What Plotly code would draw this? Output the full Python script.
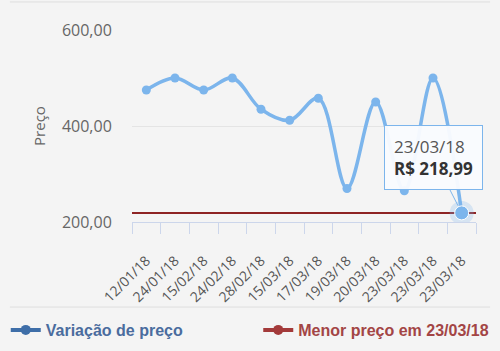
import plotly.graph_objects as go

dates = ["12/01/18", "24/01/18", "15/02/18", "24/02/18", "28/02/18", "15/03/18",
         "17/03/18", "19/03/18", "20/03/18", "23/03/18", "23/03/18", "23/03/18"]
prices = [474.9, 499.9, 474.9, 499.9, 434.9, 411.9, 457.9, 269.9, 449.9, 264.9, 499.9, 218.99]
y_ticks = [200, 400, 600]
series_name = "Variação de preço"
lowest_name = "Menor preço em " + dates[-1]

idx = list(range(len(dates)))
low = min(prices)
blue = "#7cb5ec"
red = "#8e2424"

fig = go.Figure()

fig.add_trace(go.Scatter(
    x=idx, y=prices, mode="lines+markers",
    line=dict(color=blue, width=3.5, shape="spline", smoothing=1.0),
    marker=dict(color=blue, size=9),
    showlegend=False, hoverinfo="skip"))

# highlighted last point with halo
fig.add_trace(go.Scatter(
    x=[idx[-1]], y=[prices[-1]], mode="markers",
    marker=dict(color="rgba(124,181,236,0.25)", size=24),
    showlegend=False, hoverinfo="skip"))
fig.add_trace(go.Scatter(
    x=[idx[-1]], y=[prices[-1]], mode="markers",
    marker=dict(color=blue, size=14, line=dict(color="#ffffff", width=1)),
    showlegend=False, hoverinfo="skip"))

# legend entries
fig.add_trace(go.Scatter(
    x=[None], y=[None], mode="lines+markers", name="<b>" + series_name + "</b>",
    line=dict(color="#3e6ea8", width=4), marker=dict(color="#3e6ea8", size=10),
    legend="legend"))
fig.add_trace(go.Scatter(
    x=[None], y=[None], mode="lines+markers", name="<b>" + lowest_name + "</b>",
    line=dict(color="#a33a3a", width=4), marker=dict(color="#a33a3a", size=10),
    legend="legend2"))

shapes = [
    dict(type="line", xref="x domain", yref="y", x0=0, x1=1, y0=low, y1=low,
         line=dict(color=red, width=2), layer="below"),
    dict(type="line", xref="paper", yref="paper", x0=-0.355, x1=1.041, y0=1.146, y1=1.146,
         line=dict(color="#dedede", width=1)),
    dict(type="line", xref="paper", yref="paper", x0=-0.355, x1=1.041, y0=-0.443, y1=-0.443,
         line=dict(color="#dedede", width=1)),
]

price_txt = f"R$ {prices[-1]:.2f}".replace(".", ",")
annotations = [
    dict(x=idx[-1], y=prices[-1], xref="x", yref="y",
         text=f"<span style='color:#555'>{dates[-1]}</span><br><b>{price_txt}</b>",
         showarrow=True, arrowhead=0, arrowcolor=blue, arrowwidth=1, standoff=8,
         ax=-28, ay=-55, align="left",
         bgcolor="rgba(249,251,254,0.96)", bordercolor=blue, borderwidth=1, borderpad=9,
         font=dict(family="Open Sans", size=17, color="#333"))
]

fig.update_layout(
    width=500, height=351,
    margin=dict(l=132, r=24, t=30, b=129, autoexpand=False),
    paper_bgcolor="#f4f4f4", plot_bgcolor="#f4f4f4",
    separators=",.",
    font=dict(family="Open Sans", color="#666"),
    shapes=shapes, annotations=annotations,
    legend=dict(x=-0.367, y=-0.5625, xanchor="left", yanchor="middle",
                orientation="h", bgcolor="rgba(0,0,0,0)",
                font=dict(family="Liberation Sans", size=16, color="#4a6c9e")),
    legend2=dict(x=0.367, y=-0.5625, xanchor="left", yanchor="middle",
                 orientation="h", bgcolor="rgba(0,0,0,0)",
                 font=dict(family="Liberation Sans", size=16, color="#a34545")),
    xaxis=dict(
        range=[-0.5, len(dates) - 0.5], tickvals=idx, ticktext=dates,
        tickangle=-45, ticks="outside", ticklen=24, tickcolor="rgba(0,0,0,0)",
        tickfont=dict(family="Open Sans", size=14, color="#555"),
        showgrid=False, zeroline=False, showline=True, linecolor="#ccd6eb", linewidth=1,
        minor=dict(tickvals=[i - 0.5 for i in range(len(dates) + 1)], ticks="outside",
                   ticklen=11, tickcolor="#ccd6eb", tickwidth=1, showgrid=False),
        fixedrange=True),
    yaxis=dict(
        range=[y_ticks[0], y_ticks[-1]], tickvals=y_ticks, tickformat=",.2f",
        ticks="outside", ticklen=16, tickcolor="rgba(0,0,0,0)",
        tickfont=dict(family="Open Sans", size=16, color="#666"),
        showgrid=True, gridcolor="#e4e4e4", zeroline=False, showline=False,
        title=dict(text="Preço", font=dict(family="Open Sans", size=15, color="#666"),
                   standoff=12),
        fixedrange=True),
)

fig.write_html("out.html")
